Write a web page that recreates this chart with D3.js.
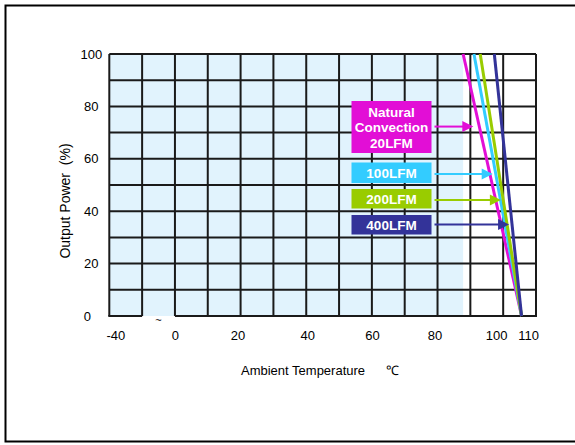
<!DOCTYPE html>
<html><head><meta charset="utf-8">
<script src="https://cdn.jsdelivr.net/npm/d3@7/dist/d3.min.js"></script>
<style>body{margin:0;background:#fff}svg{display:block}text{font-family:Arial,"Liberation Sans",sans-serif}</style>
</head><body><svg id="c" width="575" height="445"></svg>
<script>
// ---- data ----
const seriesNames = ["Natural Convection 20LFM", "100LFM", "200LFM", "400LFM"];
const seriesColors = ["#e20ed6", "#33ccff", "#99cc00", "#333399"];
// derating lines: [temperature, output %] (axis scale: -20 position is labelled -40, broken axis)
const seriesStart = [[87.8, 100], [91.1, 100], [93.0, 100], [97.3, 100]];
const seriesEnd = [[105.6, 0], [105.6, 0], [105.6, 0], [105.6, 0]];
// arrows from label boxes: [output % level, tip temperature]
const arrowLevel = [72.3, 54.2, 44.3, 34.9];
const arrowTip = [90.9, 96.8, 99.3, 101.8];
const labelLines = [["Natural", "Convection", "20LFM"], ["100LFM"], ["200LFM"], ["400LFM"]];
const xTickValues = [-20, 0, 20, 40, 60, 80, 100, 110];
const xTickLabels = ["-40", "0", "20", "40", "60", "80", "100", "110"];
const yTickValues = [0, 20, 40, 60, 80, 100];

// ---- layout ----
const svg = d3.select("#c");
const x = d3.scaleLinear().domain([-20, 110]).range([109.3, 536]);
const y = d3.scaleLinear().domain([0, 100]).range([316, 54]);
const gridCol = "#1a1a1a";

// outer frame
svg.append("path").attr("d", "M575,5.5H5.5V441.5H575").attr("fill", "none")
  .attr("stroke", "#000").attr("stroke-width", 2);

// light blue region up to where the first curve starts
svg.append("rect").attr("x", x(-20)).attr("y", y(100))
  .attr("width", x(seriesStart[0][0]) - x(-20)).attr("height", y(0) - y(100))
  .attr("fill", "#e1f3fd");

// grid
const g = svg.append("g");
d3.range(-20, 111, 10).forEach(v => {
  g.append("line").attr("x1", x(v)).attr("x2", x(v)).attr("y1", y(100)).attr("y2", y(0))
    .attr("stroke", gridCol).attr("stroke-width", 2);
});
d3.range(10, 101, 10).forEach(v => {
  g.append("line").attr("x1", x(-20)).attr("x2", x(110)).attr("y1", y(v)).attr("y2", y(v))
    .attr("stroke", gridCol).attr("stroke-width", 2);
});
// bottom line with break
g.append("line").attr("x1", x(-20) - 1).attr("x2", x(-10)).attr("y1", y(0)).attr("y2", y(0))
  .attr("stroke", gridCol).attr("stroke-width", 2);
g.append("line").attr("x1", x(0)).attr("x2", x(110) + 1).attr("y1", y(0)).attr("y2", y(0))
  .attr("stroke", gridCol).attr("stroke-width", 2);
svg.append("text").attr("x", (x(-10) + x(0)) / 2).attr("y", 324).attr("text-anchor", "middle")
  .attr("font-size", 11).attr("fill", "#000").text("~");

// axes (labels only)
const xAxis = d3.axisBottom(x).tickValues(xTickValues).tickSize(0)
  .tickFormat((d, i) => xTickLabels[i]);
const xa = svg.append("g").attr("transform", `translate(0,${y(0)})`).call(xAxis);
xa.select(".domain").remove();
const xdx = [6, 0, -3, 1, 0, -3, -7, -8];
xa.selectAll("text").attr("font-size", 13).attr("font-family", "Arial, 'Liberation Sans', sans-serif")
  .attr("fill", "#000").attr("dy", null).attr("y", 24).attr("dx", (d, i) => xdx[i]);

const yAxis = d3.axisLeft(y).tickValues(yTickValues).tickSize(0);
const ya = svg.append("g").attr("transform", `translate(${x(-20)},0)`).call(yAxis);
ya.select(".domain").remove();
ya.selectAll("text").attr("font-size", 13).attr("font-family", "Arial, 'Liberation Sans', sans-serif")
  .attr("fill", "#000").attr("text-anchor", "middle").attr("x", d => d === 0 ? -22 : -18);

// axis titles
svg.append("text").attr("transform", "translate(70,201) rotate(-90)").attr("text-anchor", "middle")
  .attr("font-size", 14).attr("fill", "#000").style("white-space", "pre").text("Output Power  (%)");
svg.append("text").attr("x", 241).attr("y", 375).attr("font-size", 13).attr("fill", "#000")
  .text("Ambient Temperature");
svg.append("text").attr("x", 386).attr("y", 375).attr("font-size", 13).attr("fill", "#000")
  .text("℃");

// derating lines
const line = d3.line().x(d => x(d[0])).y(d => y(d[1]));
seriesNames.forEach((n, i) => {
  svg.append("path").datum([seriesStart[i], seriesEnd[i]]).attr("d", line)
    .attr("fill", "none").attr("stroke", seriesColors[i]).attr("stroke-width", 3);
});

// label boxes + arrows
const boxX0 = 351.5, boxX1 = 431.5;
const boxY = [[101, 153], [162.5, 183], [189, 208.5], [215, 234.5]];
seriesNames.forEach((n, i) => {
  const c = seriesColors[i];
  svg.append("rect").attr("x", boxX0).attr("y", boxY[i][0]).attr("width", boxX1 - boxX0)
    .attr("height", boxY[i][1] - boxY[i][0]).attr("fill", c);
  const lines = labelLines[i];
  const cy = (boxY[i][0] + boxY[i][1]) / 2;
  lines.forEach((t, k) => {
    svg.append("text").attr("x", (boxX0 + boxX1) / 2).attr("y", cy + (k - (lines.length - 1) / 2) * 15.5 + 5)
      .attr("text-anchor", "middle").attr("font-size", 13.5).attr("font-weight", "bold")
      .attr("fill", "#fff").text(t);
  });
  const ay = y(arrowLevel[i]), tip = x(arrowTip[i]);
  svg.append("line").attr("x1", boxX1 + 3).attr("x2", tip - 8).attr("y1", ay).attr("y2", ay)
    .attr("stroke", c).attr("stroke-width", 2);
  svg.append("path").attr("d", `M${tip},${ay}L${tip - 11},${ay - 5.5}L${tip - 11},${ay + 5.5}Z`).attr("fill", c);
});
</script></body></html>
